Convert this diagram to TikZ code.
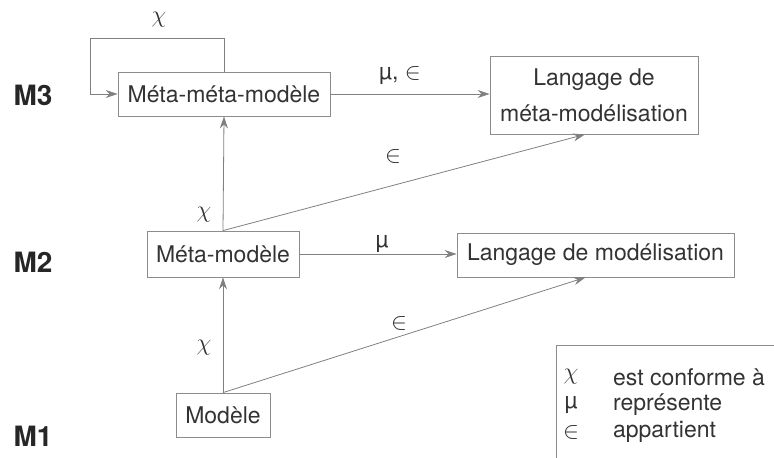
\documentclass[tikz,border=0pt]{standalone}
\usepackage{amsmath, amssymb}
\usepackage{fontspec}
\setmainfont{TeX Gyre Heros}
\usepackage{xcolor}
\usepackage{tikz}
\usetikzlibrary{arrows.meta}

\begin{document}
\begin{tikzpicture}[x=0.5pt, y=-0.5pt,
  box/.style={draw=black!45, thin, inner sep=0pt, text=black!80,
    font=\fontsize{11.5}{18}\selectfont, align=center},
  arr/.style={draw=black!50, thin, -{Stealth[length=6pt,width=4pt]}},
  lbl/.style={text=black!80, font=\fontsize{11.5}{14}\selectfont},
  lvl/.style={text=black!85, font=\fontsize{14}{16}\selectfont\bfseries}]
\useasboundingbox (0,0) rectangle (774,458);

% levels
\node[lvl] (m3) at (33,95) {M3};
\node[lvl] (m2) at (33,262) {M2};
\node[lvl] (m1) at (33,436) {M1};

% boxes
\node[box, minimum width=106pt, minimum height=22pt] (mmm) at (224,94) {Méta-méta-modèle};
\node[box, minimum width=104pt, minimum height=39pt] (lmm) at (594,95) {Langage de\\méta-modélisation};
\node[box, minimum width=76pt, minimum height=23pt] (mm) at (223,254) {Méta-modèle};
\node[box, minimum width=138.5pt, minimum height=22pt] (lm) at (595.5,255) {Langage de modélisation};
\node[box, minimum width=47pt, minimum height=22pt] (mod) at (223,415) {Modèle};

% arrows
\coordinate (loop) at (90,38);
\draw[arr] (mmm.north) |- (loop) |- (mmm.west);
\draw[arr] (mmm.east) -- (mmm.east -| lmm.west);
\draw[arr] (mm.east) -- (mm.east -| lm.west);
\draw[arr] (mm.north) -- (mmm.south);
\draw[arr] (mod.north) -- (mm.south);
\draw[arr] (mm.north) -- ([xshift=-4.5pt]lmm.south);
\draw[arr] (mod.north) -- ([xshift=-5pt]lm.south);

\node[lbl] (c3) at (159,20) {$\chi$};
\node[lbl] (mu3) at (400,76) {µ, $\in$};
\node[lbl] (e3) at (393,157) {$\in$};
\node[lbl] (c2) at (204,215) {$\chi$};
\node[lbl] (mu2) at (382,244) {µ};
\node[lbl] (e2) at (399,323) {$\in$};
\node[lbl] (c1) at (204,348) {$\chi$};

% legend
\draw[black!45, thin] (774,345) -| (556,458);
\node[lbl] (lc) at (571,377) {$\chi$};
\node[lbl] (lmu) at (571,405) {µ};
\node[lbl] (le) at (571,432) {$\in$};
\node[lbl, anchor=west] (tc) at (606,377) {est conforme à};
\node[lbl, anchor=west] (tmu) at (606,405) {représente};
\node[lbl, anchor=west] (te) at (606,432) {appartient};
\end{tikzpicture}
\end{document}
